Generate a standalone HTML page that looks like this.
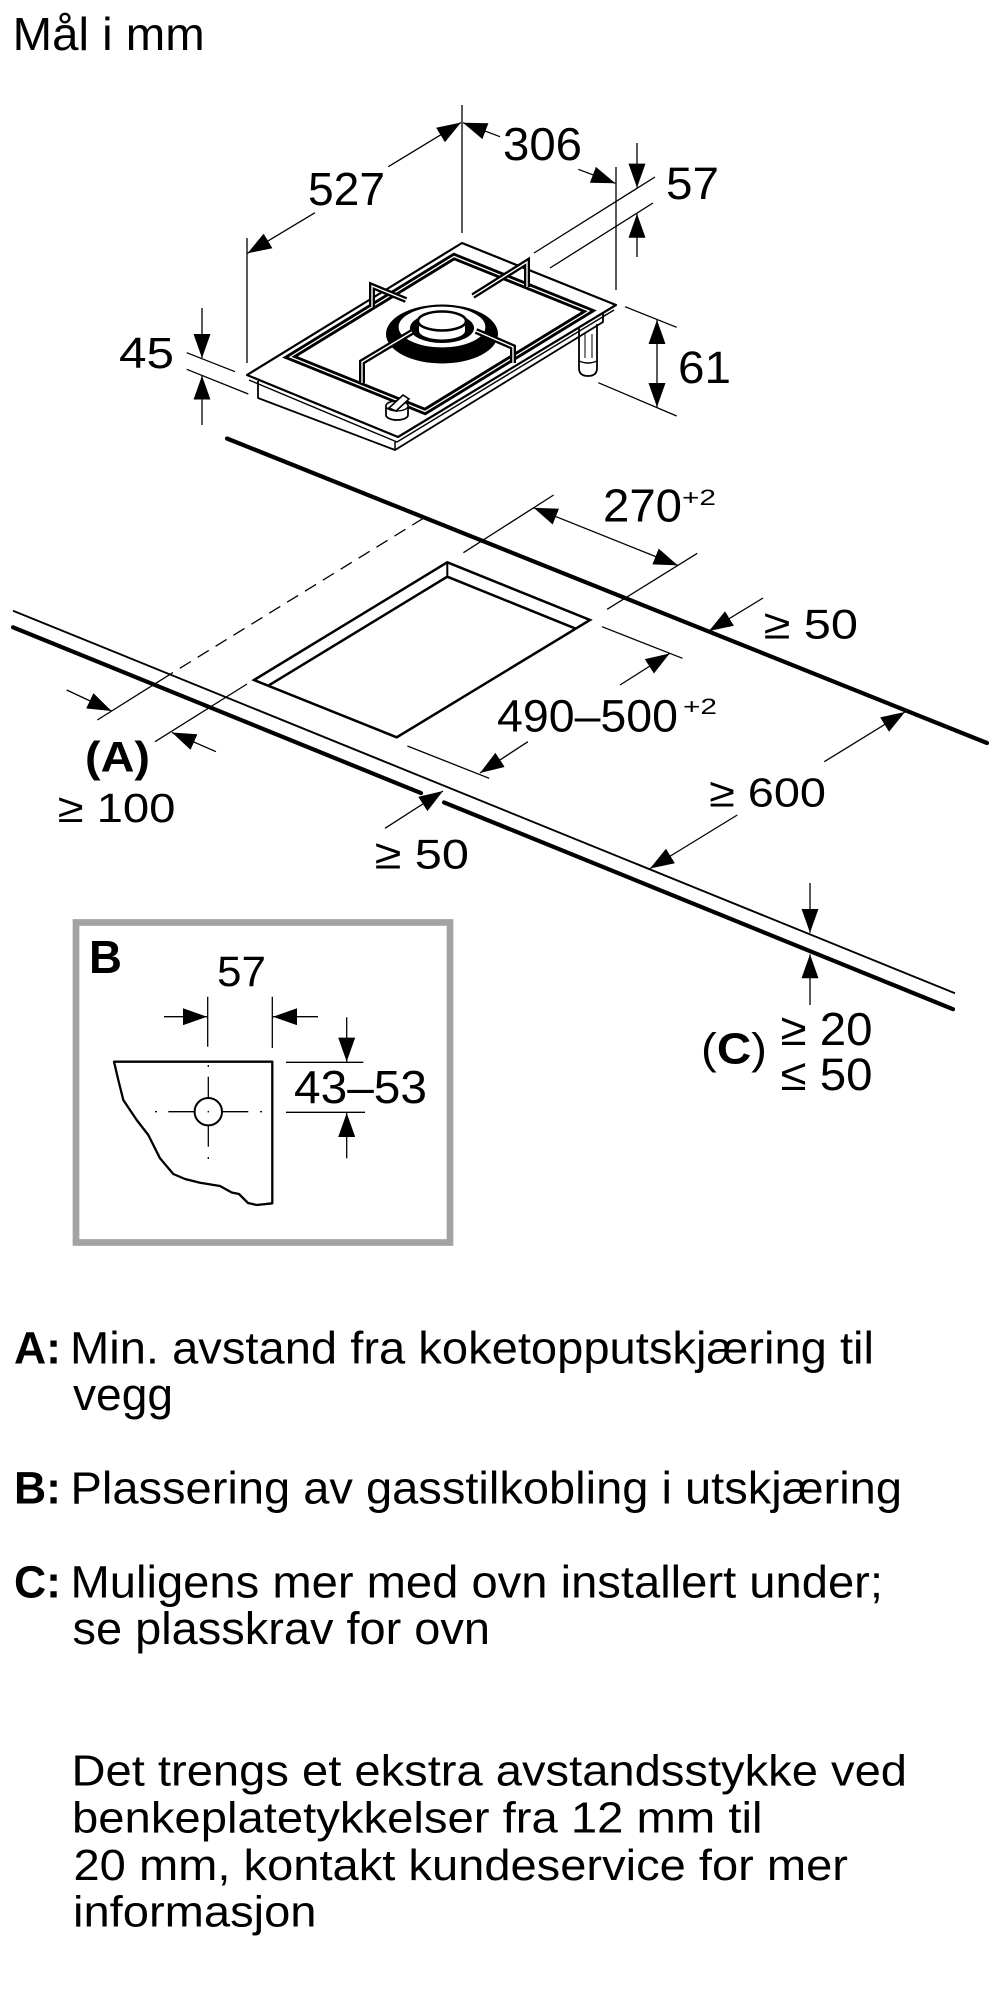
<!DOCTYPE html>
<html>
<head>
<meta charset="utf-8">
<style>
html,body{margin:0;padding:0;background:#fff;}
svg{display:block;}
text{font-family:"Liberation Sans",Arial,sans-serif;fill:#000;}
</style>
</head>
<body>
<svg xmlns="http://www.w3.org/2000/svg" width="1000" height="2000" viewBox="0 0 1000 2000">
<defs>
<marker id="ah" viewBox="0 0 24 17" markerWidth="24" markerHeight="17" refX="24" refY="8.5" orient="auto" markerUnits="userSpaceOnUse"><path d="M0,0 L24,8.5 L0,17 Z" fill="#000"/></marker>
<marker id="as" viewBox="0 0 24 17" markerWidth="24" markerHeight="17" refX="24" refY="8.5" orient="auto-start-reverse" markerUnits="userSpaceOnUse"><path d="M0,0 L24,8.5 L0,17 Z" fill="#000"/></marker>
</defs>

<rect x="0" y="0" width="1000" height="2000" fill="#fff"/>

<!-- Title -->
<text x="12.7" y="50" font-size="46" textLength="192" lengthAdjust="spacingAndGlyphs">Mål i mm</text>

<!-- ================= HOB ================= -->
<g stroke="#000" fill="none" stroke-width="1.3">
  <line x1="462" y1="105" x2="462" y2="233"/>
  <line x1="247" y1="238" x2="247" y2="363"/>
  <line x1="616" y1="167" x2="616" y2="290"/>
  <line x1="315" y1="212.7" x2="247.5" y2="253.3" marker-end="url(#ah)"/>
  <line x1="388.3" y1="166.7" x2="461" y2="122.5" marker-end="url(#ah)"/>
  <line x1="500" y1="136.7" x2="463" y2="122.7" marker-end="url(#ah)"/>
  <line x1="578.3" y1="169.3" x2="615.3" y2="183.3" marker-end="url(#ah)"/>
  <line x1="534" y1="253" x2="655" y2="177"/>
  <line x1="550" y1="268" x2="653" y2="203"/>
  <line x1="637" y1="143" x2="637" y2="187.6" marker-end="url(#ah)"/>
  <line x1="637" y1="257" x2="637" y2="213.8" marker-end="url(#ah)"/>
  <line x1="625" y1="306.7" x2="676.7" y2="327.3"/>
  <line x1="598.3" y1="382.7" x2="676.7" y2="416"/>
  <line x1="657" y1="320" x2="657" y2="407" marker-start="url(#as)" marker-end="url(#as)"/>
  <line x1="186.7" y1="352.7" x2="235" y2="371.7"/>
  <line x1="186.7" y1="369.3" x2="248.3" y2="394"/>
  <line x1="202" y1="308" x2="202" y2="358" marker-end="url(#ah)"/>
  <line x1="202" y1="425" x2="202" y2="375.7" marker-end="url(#ah)"/>
</g>

<!-- leg -->
<path d="M579,326 L579,368 Q579,376 588,376 Q597,376 597,368 L597,324" fill="#fff" stroke="#000" stroke-width="1.8"/>
<path d="M579,361 Q588,365 597,361" fill="none" stroke="#000" stroke-width="1.5"/>
<line x1="585" y1="334" x2="585" y2="358" stroke="#000" stroke-width="1"/>
<line x1="592" y1="334" x2="592" y2="358" stroke="#000" stroke-width="1"/>

<!-- body below plate -->
<polyline points="258,381 258,398 395,450 603,322 603,312" fill="none" stroke="#000" stroke-width="1.8" stroke-linejoin="round"/>
<line x1="395" y1="442" x2="395" y2="450" stroke="#000" stroke-width="1.5"/>

<!-- plate -->
<path d="M247,375 L462,243 L616,305 L398,437 Z" fill="#fff" stroke="#000" stroke-width="2.2" stroke-linejoin="round"/>
<polyline points="249,380 397,442 614,310" fill="none" stroke="#000" stroke-width="1.4" stroke-linejoin="round"/>

<!-- trivet frame -->
<path d="M290,357 L454,256.5 L589,311 L425,411.5 Z" fill="none" stroke="#000" stroke-width="7" stroke-linejoin="miter"/>
<path d="M290,357 L454,256.5 L589,311 L425,411.5 Z" fill="none" stroke="#fff" stroke-width="1.3"/>

<!-- burner -->
<ellipse cx="442" cy="334" rx="56" ry="29.5" fill="#000"/>
<ellipse cx="442" cy="327" rx="44" ry="21" fill="#fff" stroke="#000" stroke-width="1.2"/>
<ellipse cx="442" cy="328" rx="32" ry="15" fill="#000"/>
<path d="M418,321 L418,331 A24,9.5 0 0 0 466,331 L466,321" fill="#fff" stroke="#000" stroke-width="2"/>
<ellipse cx="442" cy="321" rx="24" ry="9.5" fill="#fff" stroke="#000" stroke-width="2.5"/>

<!-- trivet fingers -->
<g fill="none" stroke-linejoin="miter">
  <path d="M372,307 L372,286 L406,300" stroke="#000" stroke-width="6"/>
  <path d="M372,307 L372,286 L406,300" stroke="#fff" stroke-width="1.4"/>
  <path d="M527,287 L527,262 L473,296" stroke="#000" stroke-width="6"/>
  <path d="M527,287 L527,262 L473,296" stroke="#fff" stroke-width="1.4"/>
  <path d="M412,332 L362,362 L362,383" stroke="#000" stroke-width="6"/>
  <path d="M412,332 L362,362 L362,383" stroke="#fff" stroke-width="1.4"/>
  <path d="M476,331 L513,347 L513,363" stroke="#000" stroke-width="6"/>
  <path d="M476,331 L513,347 L513,363" stroke="#fff" stroke-width="1.4"/>
</g>

<!-- knob -->
<path d="M386,415 L386,406 A11,5 0 0 1 408,406 L408,415 A11,5 0 0 1 386,415 Z" fill="#fff" stroke="#000" stroke-width="1.8"/>
<ellipse cx="397" cy="406" rx="11" ry="5" fill="#fff" stroke="#000" stroke-width="1.4"/>
<polygon points="389,408 403,395 409,399 396,411" fill="#fff" stroke="#000" stroke-width="1.6"/>

<!-- hob labels -->
<text x="308" y="205" font-size="46" textLength="77" lengthAdjust="spacingAndGlyphs">527</text>
<text x="503" y="160" font-size="46" textLength="79" lengthAdjust="spacingAndGlyphs">306</text>
<text x="666" y="199" font-size="45" textLength="53" lengthAdjust="spacingAndGlyphs">57</text>
<text x="119" y="368" font-size="44" textLength="55" lengthAdjust="spacingAndGlyphs">45</text>
<text x="678" y="383" font-size="45" textLength="53" lengthAdjust="spacingAndGlyphs">61</text>

<!-- ================= COUNTERTOP ================= -->
<line x1="227" y1="438.5" x2="987" y2="743" stroke="#000" stroke-width="4.2" stroke-linecap="round"/>
<line x1="13" y1="610.7" x2="955" y2="993.3" stroke="#000" stroke-width="1.9"/>
<line x1="13" y1="627.3" x2="421" y2="793.1" stroke="#000" stroke-width="4.2" stroke-linecap="round"/>
<line x1="444" y1="802.4" x2="953" y2="1009.2" stroke="#000" stroke-width="4.2" stroke-linecap="round"/>

<!-- cutout -->
<path d="M447.3,562.3 L590,620 L396.7,737.3 L254,680 Z" fill="none" stroke="#000" stroke-width="2.5" stroke-linejoin="miter"/>
<polyline points="268.3,685.7 447.3,576.7 575.8,628.7" fill="none" stroke="#000" stroke-width="2.5" stroke-linejoin="miter"/>
<line x1="447.3" y1="562.3" x2="447.3" y2="576.7" stroke="#000" stroke-width="2"/>

<g stroke="#000" fill="none" stroke-width="1.3">
  <line x1="423.3" y1="518.3" x2="171.7" y2="673.3" stroke-dasharray="13 8"/>
  <line x1="171.7" y1="673.3" x2="97.3" y2="720"/>
  <line x1="247" y1="684" x2="155" y2="741.7"/>
  <line x1="66.7" y1="690" x2="111.5" y2="711" marker-end="url(#ah)"/>
  <line x1="216" y1="751.7" x2="172" y2="732.5" marker-end="url(#ah)"/>
  <line x1="553.6" y1="495" x2="463.4" y2="552.7"/>
  <line x1="697.3" y1="553.3" x2="607.1" y2="609.3"/>
  <line x1="533.6" y1="507.7" x2="677.8" y2="565.4" marker-start="url(#as)" marker-end="url(#as)"/>
  <line x1="763" y1="598" x2="709" y2="631" marker-end="url(#ah)"/>
  <line x1="602" y1="626.7" x2="682.5" y2="658.3"/>
  <line x1="407.4" y1="746" x2="489.2" y2="778.3"/>
  <line x1="620" y1="685" x2="669.6" y2="653.5" marker-end="url(#ah)"/>
  <line x1="527.9" y1="741.7" x2="480" y2="773" marker-end="url(#ah)"/>
  <line x1="824.3" y1="761.7" x2="905" y2="712" marker-end="url(#ah)"/>
  <line x1="737.3" y1="815" x2="650" y2="868.5" marker-end="url(#ah)"/>
  <line x1="385" y1="828.3" x2="443" y2="791" marker-end="url(#ah)"/>
  <line x1="810" y1="883" x2="810" y2="932.8" marker-end="url(#ah)"/>
  <line x1="810" y1="1005" x2="810" y2="954.3" marker-end="url(#ah)"/>
</g>

<!-- countertop labels -->
<text x="603" y="521.7" font-size="46" textLength="79" lengthAdjust="spacingAndGlyphs">270</text>
<text x="682" y="505" font-size="22" textLength="34" lengthAdjust="spacingAndGlyphs">+2</text>
<text x="763.5" y="638.3" font-size="42" textLength="94.5" lengthAdjust="spacingAndGlyphs">≥ 50</text>
<text x="497" y="731.7" font-size="45" textLength="181" lengthAdjust="spacingAndGlyphs">490–500</text>
<text x="683" y="714" font-size="22" textLength="34" lengthAdjust="spacingAndGlyphs">+2</text>
<text x="709" y="806.7" font-size="41" textLength="117" lengthAdjust="spacingAndGlyphs">≥ 600</text>
<text x="374.5" y="868.3" font-size="42" textLength="94.5" lengthAdjust="spacingAndGlyphs">≥ 50</text>
<text x="85" y="771.7" font-size="43" font-weight="bold" textLength="65" lengthAdjust="spacingAndGlyphs">(A)</text>
<text x="57.5" y="822" font-size="41" textLength="118" lengthAdjust="spacingAndGlyphs">≥ 100</text>
<text x="701" y="1063.3" font-size="44" textLength="66" lengthAdjust="spacingAndGlyphs">(<tspan font-weight="bold">C</tspan>)</text>
<text x="780.5" y="1045" font-size="46" textLength="92" lengthAdjust="spacingAndGlyphs">≥ 20</text>
<text x="780.5" y="1090" font-size="45" textLength="92" lengthAdjust="spacingAndGlyphs">≤ 50</text>

<!-- ================= BOX B ================= -->
<rect x="76" y="922.5" width="374" height="320" fill="none" stroke="#a3a3a3" stroke-width="6.7"/>
<text x="89" y="973" font-size="46" font-weight="bold" textLength="33" lengthAdjust="spacingAndGlyphs">B</text>
<text x="217" y="986" font-size="43" textLength="49" lengthAdjust="spacingAndGlyphs">57</text>
<text x="294" y="1103" font-size="46" textLength="133" lengthAdjust="spacingAndGlyphs">43–53</text>

<path d="M114,1061.7 L272.3,1061.7 L272.3,1203.3 L256.7,1205 L248,1203 L243,1198 L239,1194 L231.7,1192.5 L220,1186 L200,1182.7 L185,1179 L173.3,1174 L160,1158.3 L148.3,1135 L136.7,1120 L123.3,1100 L118.3,1080 Z" fill="#fff" stroke="#000" stroke-width="2.3" stroke-linejoin="round"/>
<g stroke="#000" stroke-width="1.3" fill="none">
  <line x1="168.3" y1="1111.7" x2="194.6" y2="1111.7"/>
  <line x1="222" y1="1111.7" x2="248.3" y2="1111.7"/>
  <line x1="208.3" y1="1076.7" x2="208.3" y2="1098"/>
  <line x1="208.3" y1="1125.4" x2="208.3" y2="1146.7"/>
  <line x1="155" y1="1111.7" x2="157" y2="1111.7"/>
  <line x1="260" y1="1111.7" x2="262" y2="1111.7"/>
  <line x1="208.3" y1="1065" x2="208.3" y2="1067"/>
  <line x1="208.3" y1="1157" x2="208.3" y2="1159"/>
  <line x1="207.7" y1="996.7" x2="207.7" y2="1046.7"/>
  <line x1="272.3" y1="996.7" x2="272.3" y2="1048"/>
  <line x1="164" y1="1016.7" x2="207" y2="1016.7" marker-end="url(#ah)"/>
  <line x1="318" y1="1016.7" x2="273" y2="1016.7" marker-end="url(#ah)"/>
  <line x1="286" y1="1062.3" x2="363.3" y2="1062.3"/>
  <line x1="286" y1="1112.3" x2="365" y2="1112.3"/>
  <line x1="346.7" y1="1017.3" x2="346.7" y2="1061.6" marker-end="url(#ah)"/>
  <line x1="346.7" y1="1158.3" x2="346.7" y2="1113" marker-end="url(#ah)"/>
</g>
<circle cx="208.3" cy="1111.7" r="13.7" fill="#fff" stroke="#000" stroke-width="2"/>
<circle cx="208.3" cy="1111.7" r="0.8" fill="#000"/>

<!-- ================= LEGEND ================= -->
<text x="14" y="1363.3" font-size="45" font-weight="bold" textLength="47" lengthAdjust="spacingAndGlyphs">A:</text>
<text x="70" y="1363.3" font-size="45" textLength="804" lengthAdjust="spacingAndGlyphs">Min. avstand fra koketopputskjæring til</text>
<text x="73" y="1410" font-size="45" textLength="100" lengthAdjust="spacingAndGlyphs">vegg</text>

<text x="14" y="1503.3" font-size="45" font-weight="bold" textLength="47" lengthAdjust="spacingAndGlyphs">B:</text>
<text x="70.5" y="1503.3" font-size="45" textLength="831.5" lengthAdjust="spacingAndGlyphs">Plassering av gasstilkobling i utskjæring</text>

<text x="14" y="1597.3" font-size="45" font-weight="bold" textLength="47" lengthAdjust="spacingAndGlyphs">C:</text>
<text x="70.5" y="1597.3" font-size="45" textLength="812.5" lengthAdjust="spacingAndGlyphs">Muligens mer med ovn installert under;</text>
<text x="72.5" y="1644" font-size="45" textLength="417.5" lengthAdjust="spacingAndGlyphs">se plasskrav for ovn</text>

<text x="71.5" y="1785.7" font-size="44" textLength="835.5" lengthAdjust="spacingAndGlyphs">Det trengs et ekstra avstandsstykke ved</text>
<text x="72" y="1832.7" font-size="44" textLength="690.5" lengthAdjust="spacingAndGlyphs">benkeplatetykkelser fra 12 mm til</text>
<text x="73.5" y="1880" font-size="44" textLength="774.5" lengthAdjust="spacingAndGlyphs">20 mm, kontakt kundeservice for mer</text>
<text x="73" y="1926.7" font-size="44" textLength="243.5" lengthAdjust="spacingAndGlyphs">informasjon</text>
</svg>
</body>
</html>
